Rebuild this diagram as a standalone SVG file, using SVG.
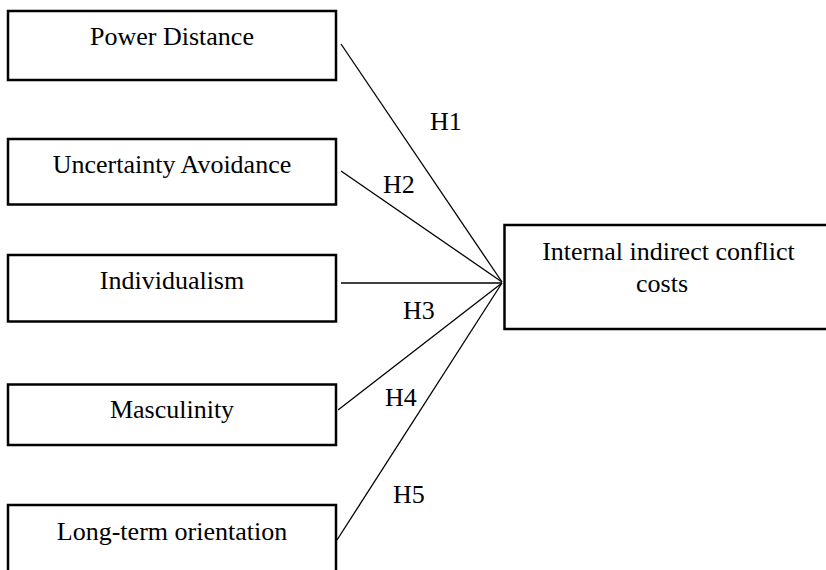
<svg xmlns="http://www.w3.org/2000/svg" width="826" height="570" viewBox="0 0 826 570">
  <style>
    .box { fill: #ffffff; stroke: #000000; stroke-width: 2.5; }
    .label { font-family: "Liberation Serif", "DejaVu Serif", serif; font-size: 26px; fill: #000000; }
    .mid { text-anchor: middle; }
    .link { stroke: #000000; stroke-width: 1.3; fill: none; }
  </style>
  <rect width="826" height="570" fill="#ffffff"/>

  <!-- connectors: each dimension converges on the outcome box -->
  <g id="connectors">
    <line class="link" x1="341" y1="44" x2="502" y2="282"/>
    <line class="link" x1="341" y1="171" x2="502" y2="282"/>
    <line class="link" x1="341" y1="283" x2="502" y2="283"/>
    <line class="link" x1="338" y1="410" x2="502" y2="283"/>
    <line class="link" x1="337" y1="540" x2="502" y2="283"/>
    <text class="label" x="430" y="130">H1</text>
    <text class="label" x="383" y="193">H2</text>
    <text class="label" x="403" y="319">H3</text>
    <text class="label" x="385" y="406">H4</text>
    <text class="label" x="393" y="503">H5</text>
  </g>

  <g id="power-distance">
    <rect class="box" x="8" y="11" width="328" height="69"/>
    <text class="label mid" x="172" y="45">Power Distance</text>
  </g>
  <g id="uncertainty-avoidance">
    <rect class="box" x="8" y="139" width="328" height="65.5"/>
    <text class="label mid" x="172" y="173">Uncertainty Avoidance</text>
  </g>
  <g id="individualism">
    <rect class="box" x="8" y="255" width="328" height="66.5"/>
    <text class="label mid" x="172" y="289">Individualism</text>
  </g>
  <g id="masculinity">
    <rect class="box" x="8" y="384.5" width="328" height="60.5"/>
    <text class="label mid" x="172" y="418">Masculinity</text>
  </g>
  <g id="long-term-orientation">
    <rect class="box" x="8" y="505" width="328" height="80"/>
    <text class="label mid" x="172" y="540">Long-term orientation</text>
  </g>
  <g id="internal-indirect-conflict-costs">
    <rect class="box" x="504.5" y="225" width="340" height="104"/>
    <text class="label mid" x="668.5" y="260">Internal indirect conflict</text>
    <text class="label mid" x="662" y="292">costs</text>
  </g>
</svg>
